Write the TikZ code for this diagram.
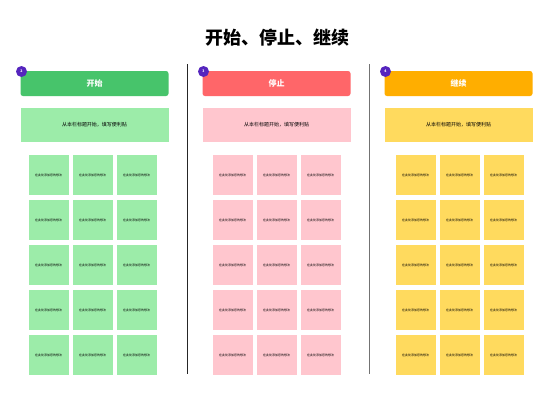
\documentclass[tikz,border=0pt]{standalone}
\usepackage{fontspec}
\setmainfont{Noto Sans CJK SC}
\usetikzlibrary{positioning}

\definecolor{hdrgreen}{HTML}{47C46B}
\definecolor{subgreen}{HTML}{9CECA9}
\definecolor{hdrred}{HTML}{FF6669}
\definecolor{subred}{HTML}{FFC6CE}
\definecolor{hdrorange}{HTML}{FFAE00}
\definecolor{subyellow}{HTML}{FFDA5E}
\definecolor{badgepurple}{HTML}{5525BE}

\begin{document}
\begin{tikzpicture}[x=1pt,y=-1pt,
    header/.style={rounded corners=2.5pt,minimum width=148pt,minimum height=25pt,inner sep=0pt,text=white,font=\fontsize{8}{9}\bfseries},
    subhead/.style={minimum width=148pt,minimum height=34pt,inner sep=0pt,font=\fontsize{5}{6}\selectfont},
    note/.style={minimum width=40pt,minimum height=40pt,inner sep=0pt,font=\fontsize{3}{3.5}\selectfont},
    badge/.style={circle,fill=badgepurple,minimum size=11pt,inner sep=0pt,text=white,font=\fontsize{3.5}{4}\bfseries}]
  \useasboundingbox[fill=white] (0,0) rectangle (555,405);

  \node[font=\fontsize{18}{20}\bfseries] (title) at (277,38) {开始、停止、继续};

  \foreach \c/\dx/\nx/\num/\name/\dark/\light in {1/0/0/2/开始/hdrgreen/subgreen,2/182/184/3/停止/hdrred/subred,3/364/367/4/继续/hdrorange/subyellow}{
    \node[header,fill=\dark] (hdr\c) at (94.5+\dx,83.5) {\name};
    \node[badge] (badge\c) at (21.5+\dx,71.5) {\num};
    \node[subhead,fill=\light] (sub\c) at (94.5+\dx,125) {从本栏标题开始，填写便利贴};
    \foreach \i in {1,2,3}
      \foreach \j in {1,...,5}
        \node[note,fill=\light] (note\c-\i-\j) at (48.5+44*\i-44+\nx,175+45*\j-45) {在此处添加您的想法};
  }

  % dividers
  \coordinate (div1a) at (187,64);
  \coordinate (div1b) at (187,374);
  \coordinate (div2a) at (369,64);
  \coordinate (div2b) at (369,374);
  \draw[line width=1pt,black!85] (div1a) -- (div1b);
  \draw[line width=1pt,black!55] (div2a) -- (div2b);
\end{tikzpicture}
\end{document}
